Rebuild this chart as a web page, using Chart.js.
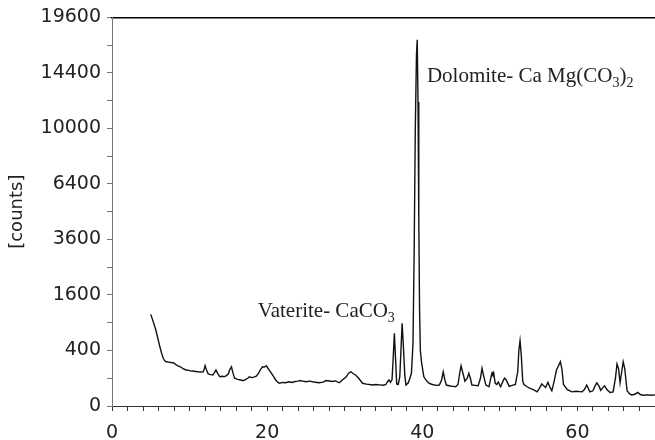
<!DOCTYPE html>
<html>
<head>
<meta charset="utf-8">
<script src="https://cdn.jsdelivr.net/npm/chart.js@4.4.1/dist/chart.umd.min.js"></script>
<style>
  html, body { margin: 0; padding: 0; background: #fff; }
  #wrap { width: 655px; height: 440px; }
</style>
</head>
<body>
<div id="wrap"><canvas id="xrd"></canvas></div>
<script>
const angles = [
  5.0, 5.3, 5.65, 5.9, 6.17, 6.4, 6.6, 6.8, 7.0, 7.3, 7.6, 7.9, 8.2, 8.5, 8.75, 9.0, 9.3, 9.6, 9.9, 10.2,
  10.45, 10.8, 11.1, 11.4, 11.75, 11.9, 12.0, 12.15, 12.4, 12.7, 13.0, 13.2, 13.4, 13.6, 13.9, 14.2, 14.5, 14.7, 15.0, 15.2,
  15.4, 15.6, 15.8, 16.2, 16.6, 16.9, 17.2, 17.5, 17.7, 18.0, 18.3, 18.6, 18.9, 19.2, 19.4, 19.6, 19.9, 20.2, 20.5, 20.8,
  21.1, 21.4, 21.6, 22.0, 22.4, 22.8, 23.2, 23.6, 24.0, 24.2, 24.6, 25.0, 25.5, 26.0, 26.7, 27.2, 27.6, 28.0, 28.4, 28.8,
  29.3, 29.7, 30.2, 30.5, 30.8, 31.1, 31.4, 31.8, 32.3, 32.8, 33.2, 33.6, 34.0, 34.5, 35.0, 35.3, 35.5, 35.7, 35.9, 36.1,
  36.25, 36.4, 36.55, 36.7, 36.9, 37.1, 37.25, 37.4, 37.55, 37.75, 37.9, 38.2, 38.4, 38.6, 38.8, 38.95, 39.1, 39.25, 39.35, 39.45,
  39.55, 39.65, 39.75, 39.9, 40.2, 40.5, 40.9, 41.3, 41.8, 42.2, 42.5, 42.7, 42.9, 43.1, 43.6, 44.0, 44.3, 44.6, 44.85, 45.0,
  45.2, 45.5, 45.8, 46.0, 46.2, 46.4, 46.8, 47.2, 47.5, 47.7, 47.9, 48.2, 48.6, 48.9, 49.0, 49.1, 49.2, 49.4, 49.6, 49.8,
  50.0, 50.1, 50.4, 50.6, 50.8, 51.2, 51.6, 52.0, 52.3, 52.45, 52.6, 52.75, 52.95, 53.1, 53.5, 53.9, 54.3, 54.6, 54.8, 55.1,
  55.4, 55.6, 55.9, 56.2, 56.4, 56.7, 57.0, 57.3, 57.5, 57.8, 58.0, 58.2, 58.7, 59.3, 59.8, 60.3, 60.6, 60.9, 61.2, 61.4,
  61.6, 62.0, 62.3, 62.5, 62.8, 63.0, 63.3, 63.5, 63.8, 64.2, 64.6, 64.9, 65.1, 65.3, 65.5, 65.7, 65.9, 66.1, 66.4, 66.7,
  67.0, 67.4, 67.8, 68.1, 68.5, 69.0, 69.5, 70.0
];
const counts = [
  1090, 930, 750, 600, 455, 360, 295, 265, 254, 250, 245, 243, 225, 210, 200, 190, 175, 168, 165, 158,
  159, 155, 152, 150, 152, 180, 210, 175, 133, 128, 125, 145, 168, 140, 111, 115, 112, 118, 135, 175,
  200, 140, 100, 92, 88, 83, 90, 100, 111, 105, 108, 115, 140, 180, 200, 195, 210, 175, 144, 115,
  88, 72, 67, 72, 70, 76, 72, 78, 80, 84, 80, 76, 80, 75, 70, 74, 84, 81, 78, 82,
  70, 88, 111, 140, 152, 135, 125, 100, 67, 62, 60, 57, 60, 58, 56, 60, 75, 88, 72, 90,
  300, 685, 300, 63, 60, 111, 400, 886, 500, 120, 57, 70, 100, 139, 500, 3000, 10000, 16000, 17400, 12000,
  4500, 1200, 400, 250, 111, 85, 67, 60, 55, 57, 90, 152, 90, 57, 52, 50, 48, 60, 150, 210,
  150, 80, 100, 139, 100, 57, 55, 53, 100, 184, 120, 57, 48, 120, 144, 130, 144, 67, 60, 75,
  55, 48, 80, 100, 90, 50, 55, 60, 150, 400, 552, 350, 80, 60, 48, 40, 35, 30, 26, 40,
  63, 55, 45, 73, 50, 30, 80, 168, 200, 254, 180, 60, 35, 26, 28, 27, 26, 35, 57, 40,
  26, 30, 55, 70, 50, 32, 45, 53, 35, 24, 26, 100, 229, 180, 70, 150, 254, 180, 30, 20,
  16, 18, 24, 17, 15, 16, 15, 16
];

// tick labels of the square-root count axis and the 2-theta axis
const yTickCounts = [0, 400, 1600, 3600, 6400, 10000, 14400, 19600];
const xTickLabels = [0, 20, 40, 60];

// phase labels: anchor (2-theta, counts) and text pieces
const phaseLabels = [
  { x: 18.8, y: 1030, parts: [['Vaterite- CaCO', false], ['3', true]] },
  { x: 40.6, y: 13600, parts: [['Dolomite- Ca Mg(CO', false], ['3', true], [')', false], ['2', true]] }
];

const sqrtMax = Math.sqrt(yTickCounts[yTickCounts.length - 1]);
const points = angles.map((a, i) => ({ x: a, y: Math.sqrt(counts[i]) }));

const labelFont = "'DejaVu Sans', sans-serif";

const phaseLabelPlugin = {
  id: 'phaseLabels',
  afterDatasetsDraw(chart) {
    const { ctx, scales } = chart;
    ctx.save();
    ctx.fillStyle = '#222';
    ctx.textBaseline = 'alphabetic';
    ctx.textAlign = 'left';
    phaseLabels.forEach((lbl) => {
      let px = scales.x.getPixelForValue(lbl.x);
      const py = scales.y.getPixelForValue(Math.sqrt(lbl.y));
      lbl.parts.forEach(([text, sub]) => {
        ctx.font = sub ? "14px 'Liberation Serif', serif" : "21px 'Liberation Serif', serif";
        ctx.fillText(text, px, sub ? py + 5 : py);
        px += ctx.measureText(text).width;
      });
    });
    ctx.restore();
  }
};

new Chart(document.getElementById('xrd'), {
  type: 'line',
  data: {
    datasets: [{
      data: points,
      borderColor: '#111',
      borderWidth: 1.4,
      pointRadius: 0,
      tension: 0,
      fill: false,
    }],
  },
  options: {
    responsive: true,
    maintainAspectRatio: false,
    animation: false,
    layout: { padding: { left: 0, right: 0, top: 0, bottom: 0 } },
    scales: {
      x: {
        type: 'linear',
        position: 'bottom',
        min: 0,
        max: 70,
        afterFit: (scale) => {
          scale.height = 34;
          scale.paddingLeft = 0;
          scale.paddingRight = 0;
        },
        border: { color: '#333', width: 1 },
        grid: { drawOnChartArea: false, tickLength: 5, color: '#333' },
        ticks: {
          stepSize: 2,
          autoSkip: false,
          maxRotation: 0,
          padding: 11,
          color: '#222',
          font: { family: labelFont, size: 19 },
          callback: (v) => (xTickLabels.includes(v) ? String(v) : ''),
        },
      },
      xTop: {
        type: 'linear',
        position: 'top',
        min: 0,
        max: 70,
        afterFit: (scale) => {
          scale.height = 17;
          scale.paddingLeft = 0;
          scale.paddingRight = 0;
        },
        border: { color: '#000', width: 1.6 },
        grid: { display: false },
        ticks: { display: false },
      },
      y: {
        min: 0,
        max: sqrtMax,
        afterFit: (scale) => { scale.width = 112; },
        border: { color: '#777', width: 1 },
        grid: { drawOnChartArea: false, tickLength: 5, color: '#777' },
        ticks: {
          stepSize: 10,
          autoSkip: false,
          padding: 6,
          color: '#222',
          font: { family: labelFont, size: 19 },
          callback: (v) => {
            const c = Math.round(v * v);
            return yTickCounts.includes(c) && v % 20 === 0 ? String(c) : '';
          },
        },
        title: {
          display: true,
          text: '[counts]',
          color: '#222',
          font: { family: labelFont, size: 18 },
          padding: { top: 7, bottom: 0 },
        },
      },
    },
    plugins: {
      legend: { display: false },
      tooltip: { enabled: false },
    },
  },
  plugins: [phaseLabelPlugin],
});
</script>
</body>
</html>
